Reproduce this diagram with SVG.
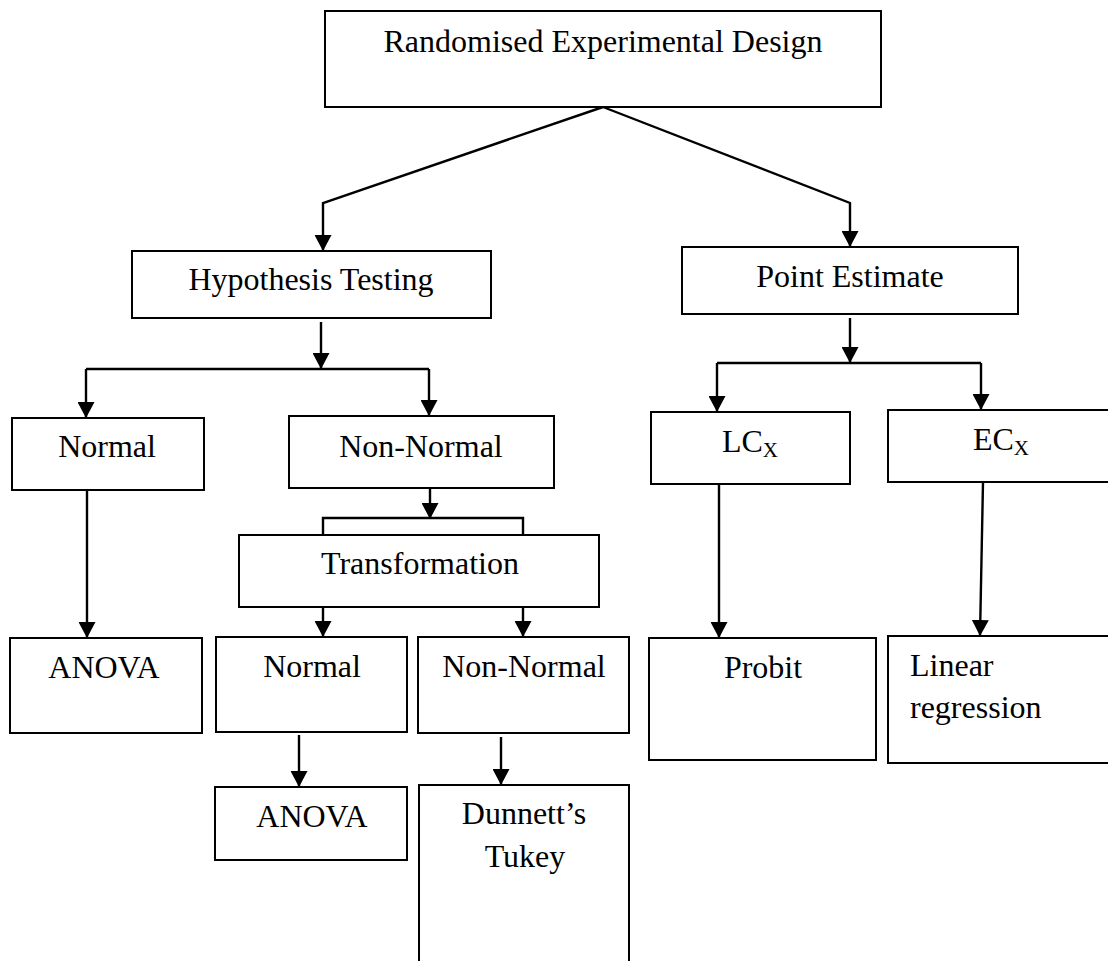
<svg xmlns="http://www.w3.org/2000/svg" width="1108" height="961" viewBox="0 0 1108 961">
<defs>
<style>
.box{fill:#fff;stroke:#000;stroke-width:2}
.t{font-family:"Liberation Serif","Times New Roman",serif;font-size:32px;fill:#000;text-anchor:middle}
.ts{text-anchor:start}
.sub{font-size:21px}
.c{fill:none;stroke:#000;stroke-width:2.4}
</style>
<marker id="ah" viewBox="0 0 16 17" refX="16" refY="8.5" markerWidth="16" markerHeight="17" markerUnits="userSpaceOnUse" orient="auto">
<path d="M0,0 L16,8.5 L0,17 z" fill="#000"/>
</marker>
</defs>
<rect width="1108" height="961" fill="#fff"/>
<g id="connectors">
<polyline class="c" points="603,107 323,203 323,251" marker-end="url(#ah)"/>
<polyline class="c" points="603,107 850,203 850,247" marker-end="url(#ah)"/>
<line class="c" x1="321" y1="322" x2="321" y2="369" marker-end="url(#ah)"/>
<line class="c" x1="86" y1="369" x2="429" y2="369"/>
<line class="c" x1="86" y1="369" x2="86" y2="418" marker-end="url(#ah)"/>
<line class="c" x1="429" y1="369" x2="429" y2="416" marker-end="url(#ah)"/>
<line class="c" x1="430" y1="488" x2="430" y2="519" marker-end="url(#ah)"/>
<path class="c" d="M323,535 V518 H523 V535"/>
<line class="c" x1="323" y1="607" x2="323" y2="637" marker-end="url(#ah)"/>
<line class="c" x1="523" y1="607" x2="523" y2="637" marker-end="url(#ah)"/>
<line class="c" x1="87" y1="490" x2="87" y2="638" marker-end="url(#ah)"/>
<line class="c" x1="299" y1="735" x2="299" y2="787" marker-end="url(#ah)"/>
<line class="c" x1="501" y1="737" x2="501" y2="785" marker-end="url(#ah)"/>
<line class="c" x1="850" y1="318" x2="850" y2="363" marker-end="url(#ah)"/>
<line class="c" x1="717" y1="363" x2="981" y2="363"/>
<line class="c" x1="717" y1="363" x2="717" y2="412" marker-end="url(#ah)"/>
<line class="c" x1="981" y1="363" x2="981" y2="410" marker-end="url(#ah)"/>
<line class="c" x1="719" y1="484" x2="719" y2="638" marker-end="url(#ah)"/>
<line class="c" x1="983" y1="482" x2="980" y2="636" marker-end="url(#ah)"/>
</g>
<g id="n-root"><rect class="box" x="325" y="11" width="556" height="96"/><text class="t" x="603" y="52">Randomised Experimental Design</text></g>
<g id="n-hyp"><rect class="box" x="132" y="251" width="359" height="67"/><text class="t" x="311" y="290">Hypothesis Testing</text></g>
<g id="n-pe"><rect class="box" x="682" y="247" width="336" height="67"/><text class="t" x="850" y="287">Point Estimate</text></g>
<g id="n-normal"><rect class="box" x="12" y="418" width="192" height="72"/><text class="t" x="107" y="457">Normal</text></g>
<g id="n-nonnormal"><rect class="box" x="289" y="416" width="265" height="72"/><text class="t" x="421" y="457">Non-Normal</text></g>
<g id="n-trans"><rect class="box" x="239" y="535" width="360" height="72"/><text class="t" x="420" y="574">Transformation</text></g>
<g id="n-anova1"><rect class="box" x="10" y="638" width="192" height="95"/><text class="t" x="104" y="678">ANOVA</text></g>
<g id="n-normal2"><rect class="box" x="216" y="637" width="191" height="95"/><text class="t" x="312" y="677">Normal</text></g>
<g id="n-nonnormal2"><rect class="box" x="418" y="637" width="211" height="96"/><text class="t" x="524" y="677">Non-Normal</text></g>
<g id="n-anova2"><rect class="box" x="215" y="787" width="192" height="73"/><text class="t" x="312" y="827">ANOVA</text></g>
<g id="n-dunnett"><rect class="box" x="419" y="785" width="210" height="200"/><text class="t" x="524" y="824">Dunnett’s</text><text class="t" x="525" y="867">Tukey</text></g>
<g id="n-lcx"><rect class="box" x="651" y="412" width="199" height="72"/><text class="t" x="750" y="452">LC<tspan class="sub" dy="5">X</tspan></text></g>
<g id="n-ecx"><rect class="box" x="888" y="410" width="240" height="72"/><text class="t" x="1001" y="450">EC<tspan class="sub" dy="5">X</tspan></text></g>
<g id="n-probit"><rect class="box" x="649" y="638" width="227" height="122"/><text class="t" x="763" y="678">Probit</text></g>
<g id="n-linreg"><rect class="box" x="888" y="636" width="240" height="127"/><text class="t ts" x="910" y="676">Linear</text><text class="t ts" x="910" y="718">regression</text></g>
</svg>
